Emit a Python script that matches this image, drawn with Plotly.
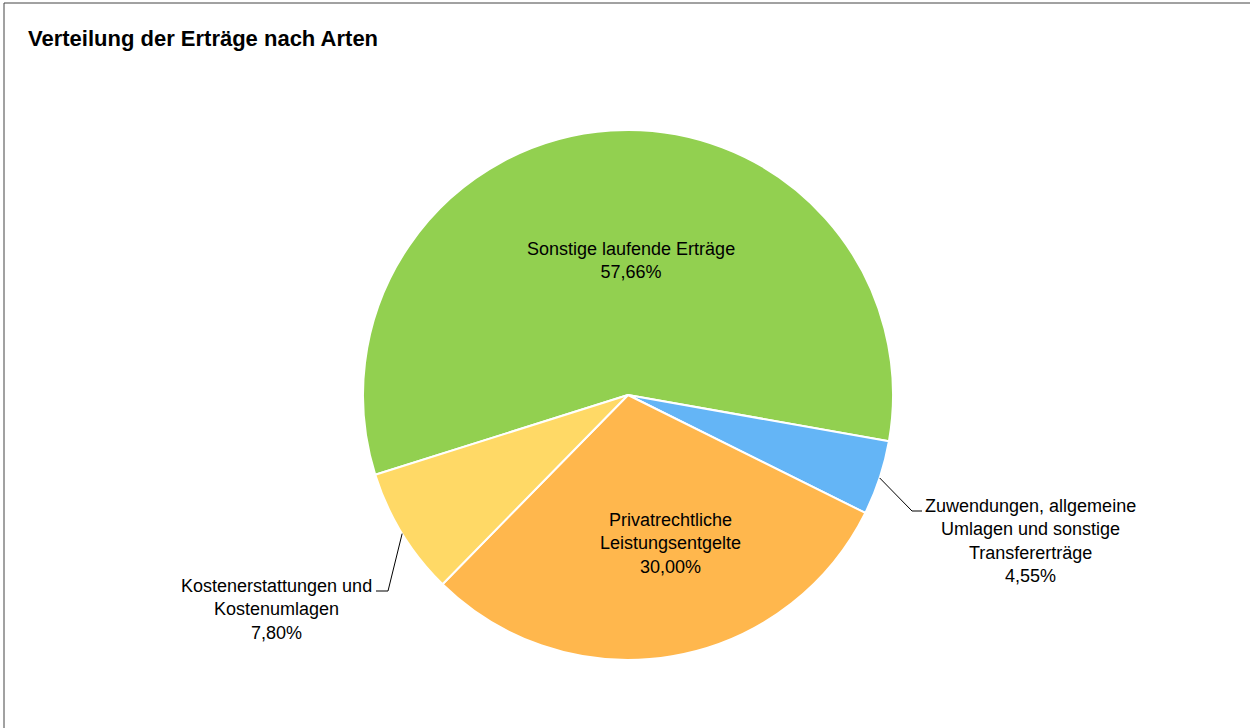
import math
import plotly.graph_objects as go

# data
labels = ['Sonstige laufende Erträge', 'Zuwendungen, allgemeine Umlagen und sonstige Transfererträge',
          'Privatrechtliche Leistungsentgelte', 'Kostenerstattungen und Kostenumlagen']
label_text = ['Sonstige laufende Erträge', 'Zuwendungen, allgemeine<br>Umlagen und sonstige<br>Transfererträge',
              'Privatrechtliche<br>Leistungsentgelte', 'Kostenerstattungen und<br>Kostenumlagen']
values = [57.66, 4.55, 30.00, 7.80]
colors = ['#92D050', '#64B5F6', '#FFB74D', '#FFD966']

W, H = 1250, 728
cx, cy, R = 628, 395, 265          # pie centre / radius in px
rotation = -107.5

FONT = 'Liberation Sans Narrow, Arial Narrow, Liberation Sans, Arial'

def px(x):
    return x / W

def py(y):
    return 1 - y / H

fig = go.Figure()
fig.add_trace(go.Pie(
    labels=labels, values=values, sort=False, direction='clockwise', rotation=rotation,
    marker=dict(colors=colors, line=dict(color='white', width=2)),
    textinfo='none', hoverinfo='label+percent', showlegend=False,
    domain=dict(x=[px(cx - R), px(cx + R)], y=[py(cy + R), py(cy - R)])
))

total = sum(values)
pct = [f'{v:.2f}%'.replace('.', ',') for v in values]

# mid angle of each slice (clockwise from 12 o'clock)
mids = []
a = rotation
for v in values:
    span = v / total * 360
    mids.append(a + span / 2)
    a += span

def edge(i):
    ang = math.radians(mids[i])
    return cx + R * math.sin(ang), cy - R * math.cos(ang)

annotations = []
# inside labels
inside = {0: (631, 260), 2: (670, 543)}
for i, (x, y) in inside.items():
    annotations.append(dict(x=px(x), y=py(y), xref='paper', yref='paper', showarrow=False,
                            xanchor='center', yanchor='middle',
                            text=label_text[i] + '<br>' + pct[i], align='center',
                            font=dict(family=FONT, size=18, color='black')))

# outside labels with leader lines
shapes = []
outside = {1: dict(elbow=(912, 511), end=(922, 511), pos=(1030, 541)),
           3: dict(elbow=(388, 591), end=(376, 591), pos=(276, 609))}
for i, o in outside.items():
    sx, sy = edge(i)
    (ex, ey), (tx, ty) = o['elbow'], o['end']
    shapes.append(dict(type='path', xref='paper', yref='paper',
                       path=f'M {px(sx)},{py(sy)} L {px(ex)},{py(ey)} L {px(tx)},{py(ty)}',
                       line=dict(color='black', width=1)))
    x, y = o['pos']
    annotations.append(dict(x=px(x), y=py(y), xref='paper', yref='paper', showarrow=False,
                            xanchor='center', yanchor='middle',
                            text=label_text[i] + '<br>' + pct[i], align='center',
                            font=dict(family=FONT, size=18, color='black')))

# frame (top and left edges visible)
shapes.append(dict(type='line', xref='paper', yref='paper', x0=px(4), y0=py(3), x1=1, y1=py(3),
                   line=dict(color='#444444', width=1)))
shapes.append(dict(type='line', xref='paper', yref='paper', x0=px(4), y0=py(3), x1=px(4), y1=0,
                   line=dict(color='#444444', width=1)))

annotations.append(dict(x=px(26), y=py(38), xref='paper', yref='paper', xanchor='left', yanchor='middle',
                        showarrow=False, text='<b>Verteilung der Erträge nach Arten</b>',
                        font=dict(family='Liberation Sans, Arial', size=22, color='black')))

fig.update_layout(
    width=W, height=H, margin=dict(l=0, r=0, t=0, b=0),
    paper_bgcolor='white', plot_bgcolor='white',
    annotations=annotations, shapes=shapes
)
fig.write_html('out.html', config={'displayModeBar': False},
               post_script="document.body.style.margin='0';")
